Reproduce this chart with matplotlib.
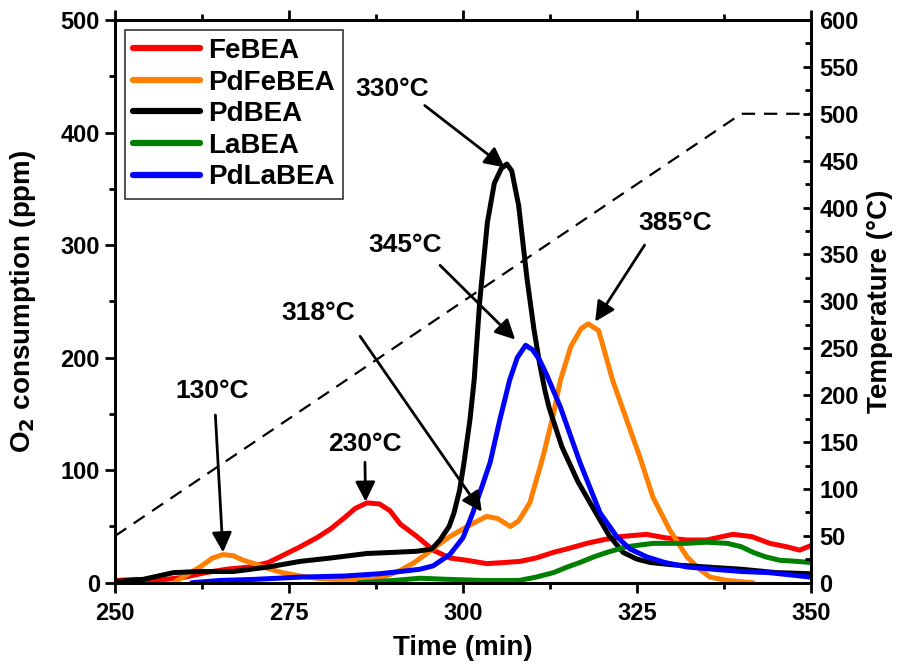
import matplotlib.pyplot as plt
from matplotlib.ticker import MultipleLocator

plt.rcParams['font.family'] = ['Liberation Sans', 'DejaVu Sans']
plt.rcParams['font.weight'] = 'bold'

# values (time in min, O2 in ppm)
t_fe = [250, 253, 256, 260, 263, 266, 269.4, 272, 274, 276.6, 279, 281, 283, 284.5, 286.2, 288, 289.5, 291, 293.4, 295.7, 298.1, 300.5, 303.4, 306, 308.2, 310.5, 313, 315.5, 317.8, 320, 322.6, 324.5, 326.4, 329, 332.2, 335, 338.8, 341.5, 344.1, 346.5, 348.4, 350]
v_fe = [2, 3, 2, 5, 9, 12, 14, 18, 24, 32, 40, 48, 58, 66, 71, 70, 64, 52, 41, 29, 22, 20, 17, 18, 19, 22, 27, 31, 35, 38, 41, 42, 43, 40, 38, 38, 43, 41, 35, 32, 29, 33]

t_pdfe = [258.4, 260, 262.2, 264, 265.5, 267, 268.4, 270, 271.8, 274, 276.6, 279, 281.3, 284, 287, 289, 291, 293, 294.8, 296.5, 298.1, 299.5, 301.5, 303.4, 305, 306.8, 308, 309.6, 311.5, 313, 314, 315.5, 317, 318, 319.5, 321.5, 323.5, 325.4, 327.3, 329.7, 332.2, 334, 335.5, 338, 341.7]
v_pdfe = [0, 6, 14, 22, 25, 24, 20, 17, 13, 9, 6, 4, 3, 3, 3, 6, 11, 18, 26, 34, 41, 46, 53, 59, 57, 50, 55, 71, 112, 150, 180, 210, 226, 230, 224, 180, 145, 112, 76, 47, 23, 12, 5, 2, 0]

t_pd = [250, 254, 258.4, 262, 267, 272, 276.6, 281, 286.2, 290, 293.4, 295.5, 296.7, 298, 298.7, 299.5, 300.1, 301, 301.6, 302.4, 303.5, 304.5, 305.5, 306.3, 307, 308, 309.2, 310.2, 311, 311.8, 312.4, 314.2, 316.5, 319.1, 321, 323, 325, 326.9, 330, 335, 340, 345, 350]
v_pd = [1, 3, 9, 10, 10, 14, 19, 22, 26, 27, 28, 30, 38, 50, 62, 82, 105, 145, 180, 250, 320, 355, 368, 372, 366, 335, 270, 225, 195, 170, 155, 121, 90, 62, 42, 27, 21, 18, 16, 14, 12, 9, 8]

t_la = [285, 290, 293.8, 298, 303, 308, 310.5, 313, 315, 316.8, 318.8, 320.7, 323.5, 327.3, 332, 335, 338, 340, 341.7, 343.5, 345.5, 348, 350]
v_la = [0, 2, 4, 3, 2, 2, 5, 9, 14, 18, 23, 27, 32, 35, 35, 36, 35, 32, 27, 23, 20, 19, 18]

t_pdla = [261, 265, 270, 276.6, 283, 288, 291, 293.8, 295.7, 298.1, 300, 301.4, 302.7, 303.9, 305.3, 306.7, 307.8, 309, 310, 311, 312, 314, 316.8, 319.7, 322.1, 324, 326.4, 329, 332.2, 336, 340, 344, 347, 350]
v_pdla = [0, 2, 3, 5, 6, 8, 10, 12, 15, 25, 40, 62, 85, 107, 145, 180, 200, 211, 207, 198, 185, 156, 107, 62, 41, 30, 23, 18, 14, 12, 10, 9, 7, 5]

t_temp = [250, 340, 350]
v_temp = [50, 500, 500]

series = [
    ('FeBEA', t_fe, v_fe, '#ff0000'),
    ('PdFeBEA', t_pdfe, v_pdfe, '#ff7f00'),
    ('PdBEA', t_pd, v_pd, '#000000'),
    ('LaBEA', t_la, v_la, '#008000'),
    ('PdLaBEA', t_pdla, v_pdla, '#0000ff'),
]

# annotations: text, text position, arrow tail, arrow tip
notes = [
    ('330°C', (289.8, 439), (294.5, 424), (306.0, 369)),
    ('345°C', (291.7, 300), (296.7, 282), (307.5, 216)),
    ('385°C', (330.5, 320), (326.1, 300), (319.0, 232)),
    ('318°C', (279.2, 240), (285.2, 219), (302.7, 63)),
    ('130°C', (263.9, 170), (264.4, 149), (265.5, 27)),
    ('230°C', (285.9, 123), (285.9, 107), (286.0, 72)),
]

fig = plt.figure(figsize=(9.07, 6.66), dpi=100)
ax = fig.add_axes([0.127, 0.125, 0.767, 0.845])
ax2 = ax.twinx()

for name, t, v, c in series:
    ax.plot(t, v, color=c, lw=3.6, label=name, solid_capstyle='round')

ax2.plot(t_temp, v_temp, color='black', lw=1.6, ls=(0, (6, 4)))

for txt, tpos, tail, tip in notes:
    ax.text(tpos[0], tpos[1], txt, ha='center', va='center', fontsize=19, fontweight='bold')
    ax.annotate('', xy=tip, xytext=tail,
                arrowprops=dict(arrowstyle='-|>', lw=2, color='black', mutation_scale=30,
                                shrinkA=0, shrinkB=0))

ax.set_xlim(250, 350)
ax.set_ylim(0, 500)
ax2.set_ylim(0, 600)

ax.xaxis.set_major_locator(MultipleLocator(25))
ax.xaxis.set_minor_locator(MultipleLocator(12.5))
ax.yaxis.set_major_locator(MultipleLocator(100))
ax.yaxis.set_minor_locator(MultipleLocator(50))
ax2.yaxis.set_major_locator(MultipleLocator(50))
ax2.yaxis.set_minor_locator(MultipleLocator(25))

ax.tick_params(axis='both', which='major', labelsize=17, width=2, length=7, direction='out', pad=4)
ax.tick_params(axis='x', which='major', pad=7)
ax.tick_params(axis='both', which='minor', width=2, length=4, direction='out')
ax.tick_params(axis='x', which='both', top=True)
ax2.tick_params(axis='y', which='major', labelsize=17, width=2, length=6, direction='in', pad=6)
ax2.tick_params(axis='y', which='minor', width=2, length=4, direction='in')
for a in (ax, ax2):
    for s in a.spines.values():
        s.set_linewidth(2)
    for lab in a.get_xticklabels() + a.get_yticklabels():
        lab.set_fontweight('bold')

ax.set_xlabel('Time (min)', fontsize=20, fontweight='bold', labelpad=7)
ax.set_ylabel('O$_\\mathbf{2}$ consumption (ppm)', fontsize=20, fontweight='bold', labelpad=16)
ax2.set_ylabel('Temperature (°C)', fontsize=20, fontweight='bold', labelpad=6)

leg = ax.legend(loc='upper left', fontsize=20, frameon=True, fancybox=False,
                edgecolor='black', handlelength=2.4, labelspacing=0.2,
                borderaxespad=0.35, handletextpad=0.3, borderpad=0.3)
leg.get_frame().set_linewidth(1.2)
for line in leg.get_lines():
    line.set_linewidth(4.5)
for text in leg.get_texts():
    text.set_fontweight('bold')

fig.savefig('out.png', dpi=100)
